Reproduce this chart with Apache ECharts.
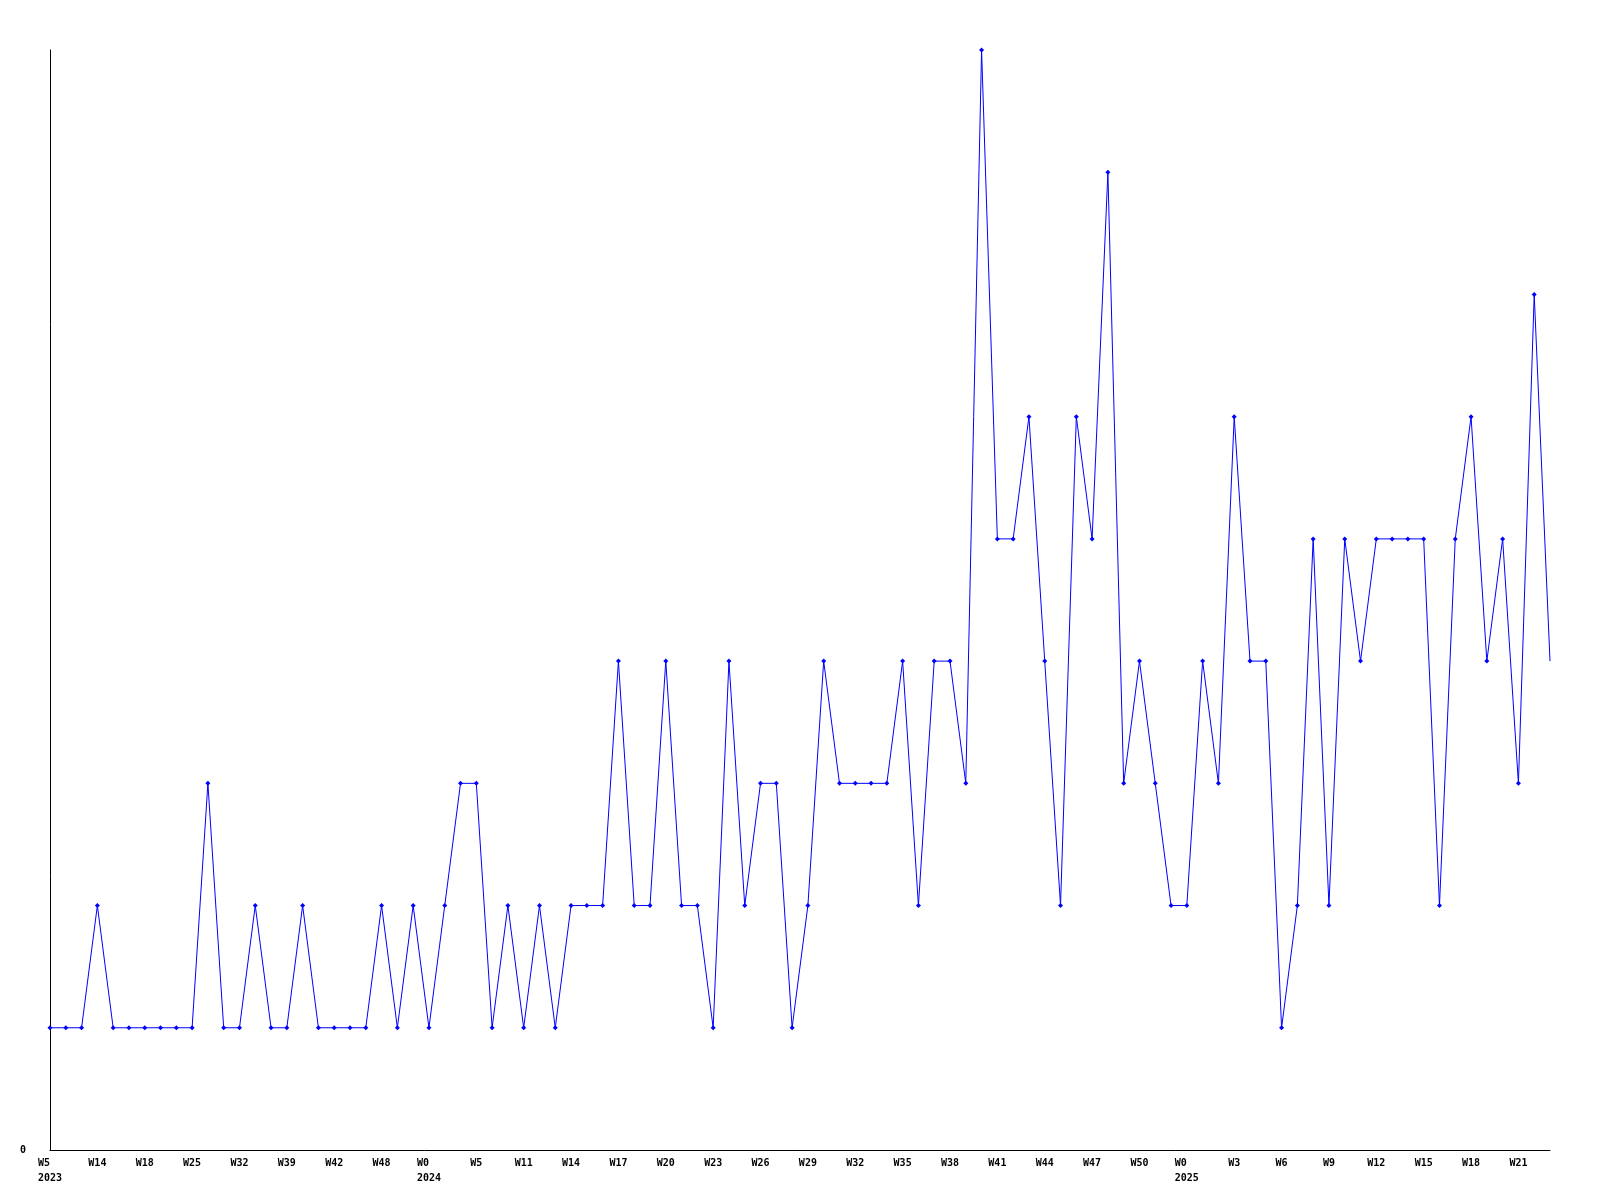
<!DOCTYPE html>
<html>
<head>
<meta charset="utf-8">
<script src="https://cdn.jsdelivr.net/npm/echarts@6/dist/echarts.min.js"></script>
<style>html,body{margin:0;padding:0;background:#fff}#c{width:1600px;height:1200px}</style>
</head>
<body>
<div id="c"></div>
<script>
// Values (one per week, 96 points)
const values = [1,1,1,2,1,1,1,1,1,1,3,1,1,2,1,1,2,1,1,1,1,2,1,2,1,2,3,3,1,2,1,2,1,2,2,2,4,2,2,4,2,2,1,4,2,3,3,1,2,4,3,3,3,3,4,2,4,4,3,9,5,5,6,4,2,6,5,8,3,4,3,2,2,4,3,6,4,4,1,2,5,2,5,4,5,5,5,5,2,5,6,4,5,3,7,4];
// Tick labels shown every third point
const tickLabels = ['W5','W14','W18','W25','W32','W39','W42','W48','W0','W5','W11','W14','W17','W20','W23','W26','W29','W32','W35','W38','W41','W44','W47','W50','W0','W3','W6','W9','W12','W15','W18','W21'];
const yearLabels = {0:'2023', 8:'2024', 24:'2025'};
const yTickLabels = ['0'];

const categories = values.map((v, i) => String(i));
const seriesData = values.map((v, i) => i === values.length - 1 ? {value: v, symbol: 'none'} : v);

const chart = echarts.init(document.getElementById('c'), null, {renderer: 'canvas'});
chart.setOption({
  animation: false,
  backgroundColor: '#ffffff',
  grid: {left: 50, right: 50, top: 50, bottom: 50, containLabel: false},
  xAxis: {
    type: 'category',
    data: categories,
    boundaryGap: false,
    axisLine: {show: true, lineStyle: {color: '#000', width: 1}},
    axisTick: {show: false},
    splitLine: {show: false},
    axisLabel: {
      interval: 2,
      margin: 6,
      color: '#000',
      fontFamily: 'DejaVu Sans Mono',
      fontWeight: 'bold',
      fontSize: 10,
      lineHeight: 15,
      formatter: function (val, idx) {
        const k = idx / 3;
        const t = tickLabels[k];
        if (t === undefined) return '';
        if (yearLabels[k]) {
          const y = yearLabels[k];
          return t + ' '.repeat(Math.max(0, y.length - t.length)) + '\n' + y;
        }
        return t;
      }
    }
  },
  yAxis: {
    type: 'value',
    min: 0,
    max: 9,
    interval: 1,
    axisLine: {show: true, lineStyle: {color: '#000', width: 1}},
    axisTick: {show: false},
    splitLine: {show: false},
    axisLabel: {
      margin: 24,
      color: '#000',
      fontFamily: 'DejaVu Sans Mono',
      fontWeight: 'bold',
      fontSize: 10,
      formatter: function (v) { return v === 0 ? yTickLabels[0] : ''; }
    }
  },
  series: [{
    type: 'line',
    data: seriesData,
    symbol: 'diamond',
    symbolSize: 5,
    showAllSymbol: true,
    lineStyle: {color: '#0000ff', width: 1},
    itemStyle: {color: '#0000ff'},
    clip: false
  }]
});
</script>
</body>
</html>
